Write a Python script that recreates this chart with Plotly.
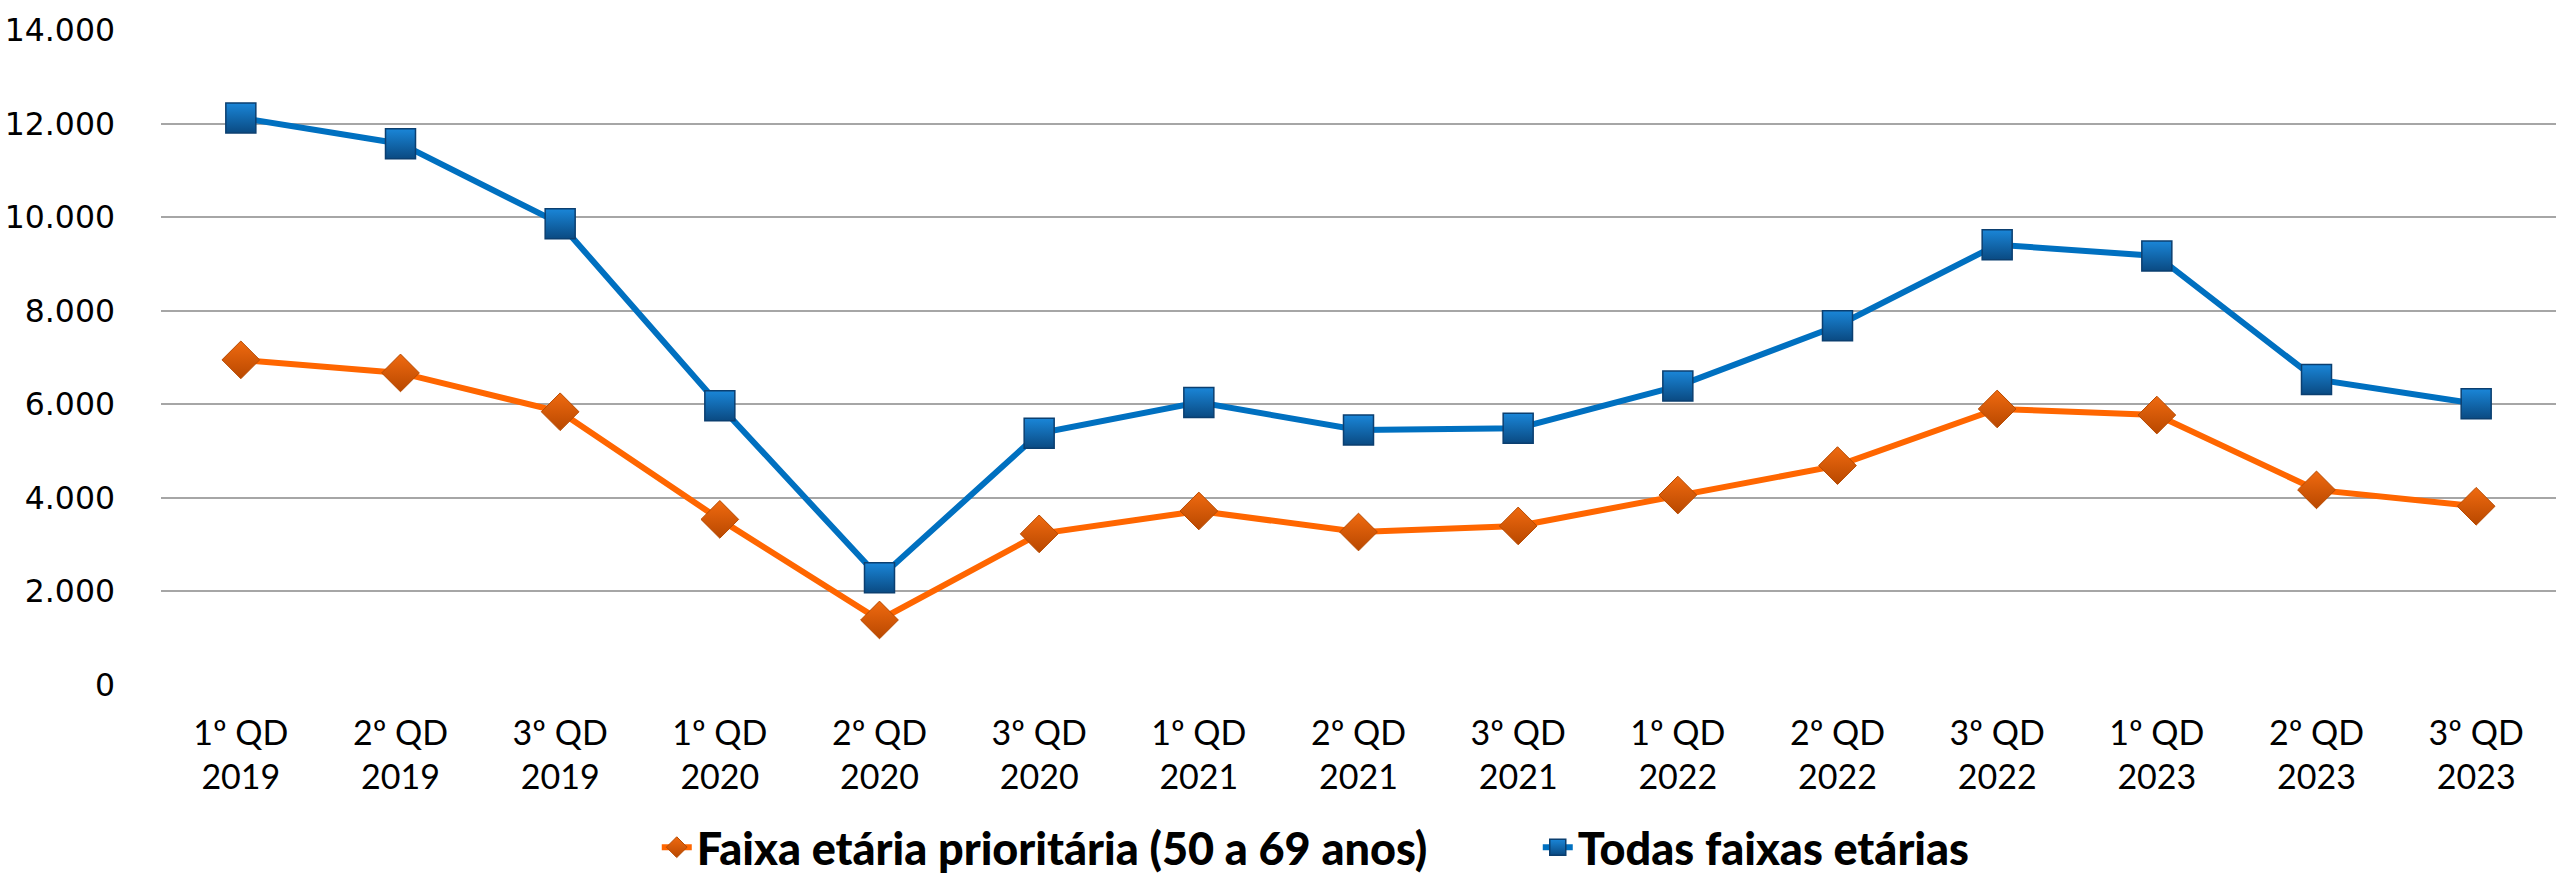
import plotly.graph_objects as go

categories = ["1º QD<br>2019", "2º QD<br>2019", "3º QD<br>2019",
              "1º QD<br>2020", "2º QD<br>2020", "3º QD<br>2020",
              "1º QD<br>2021", "2º QD<br>2021", "3º QD<br>2021",
              "1º QD<br>2022", "2º QD<br>2022", "3º QD<br>2022",
              "1º QD<br>2023", "2º QD<br>2023", "3º QD<br>2023"]
prioritaria = [6950, 6670, 5840, 3540, 1390, 3230, 3720, 3270, 3400,
               4060, 4690, 5900, 5770, 4170, 3820]
todas = [12120, 11570, 9860, 5970, 2290, 5380, 6040, 5450, 5490,
         6390, 7680, 9410, 9170, 6530, 6010]
y_ticks = [0, 2000, 4000, 6000, 8000, 10000, 12000, 14000]

name_prio = "Faixa etária prioritária (50 a 69 anos)"
name_todas = "Todas faixas etárias"

fig = go.Figure()
fig.add_trace(go.Scatter(
    x=categories, y=prioritaria, name=name_prio, mode="lines+markers",
    line=dict(color="#FF6600", width=6),
    marker=dict(symbol="diamond", size=29, color="#F06A10",
                gradient=dict(type="vertical", color="#B84800"),
                line=dict(color="#B84A00", width=1)),
))
fig.add_trace(go.Scatter(
    x=categories, y=todas, name=name_todas, mode="lines+markers",
    line=dict(color="#0070C0", width=6),
    marker=dict(symbol="square", size=30, color="#1A86D8",
                gradient=dict(type="vertical", color="#0A4A82"),
                line=dict(color="#0B3F70", width=1.5)),
))

fig.update_layout(
    width=2556, height=875,
    margin=dict(l=161, r=0, t=30, b=190, autoexpand=False),
    paper_bgcolor="white", plot_bgcolor="white",
    separators=",.",
    hovermode=False,
    showlegend=True,
    legend=dict(orientation="h", x=0.207, xanchor="left",
                y=-0.248, yanchor="middle",
                font=dict(family="Lato", size=45, color="black", weight=900),
                itemsizing="trace", entrywidth=836, traceorder="normal"),
    font=dict(family="Lato", color="black"),
)
fig.update_xaxes(
    type="category", range=[-0.5, 14.5], automargin=False,
    showgrid=False, showline=False, zeroline=False,
    tickfont=dict(family="Lato", size=34, color="black"),
    ticks="", ticklabelstandoff=25,
)
fig.update_yaxes(
    range=[0, 14000], tickvals=y_ticks, tickformat=",.0f", automargin=False,
    showgrid=True, gridcolor="#A6A6A6", gridwidth=1.5,
    zeroline=False, showline=False,
    tickfont=dict(family="DejaVu Sans", size=31.5, color="black"),
    ticks="", ticklabelstandoff=45,
)

fig.write_html("out.html", config={"displayModeBar": False},
               post_script="document.body.style.margin='0';")
